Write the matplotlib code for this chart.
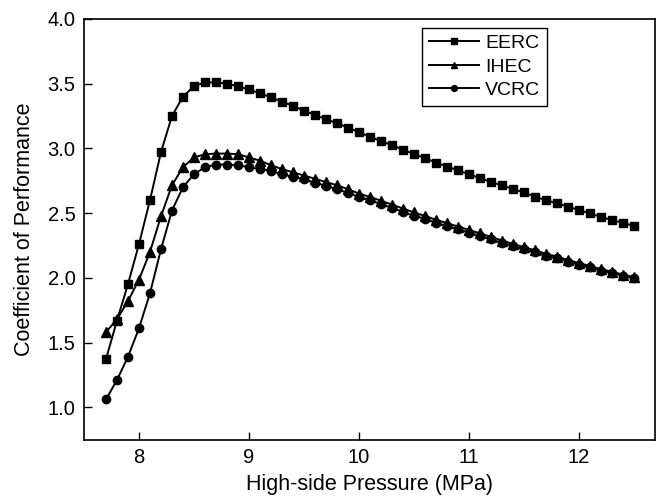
import matplotlib
matplotlib.use("Agg")
import matplotlib.pyplot as plt

plt.rcParams['font.family'] = ['Liberation Sans', 'DejaVu Sans']

pressure = [7.7, 7.8, 7.9, 8.0, 8.1, 8.2, 8.3, 8.4, 8.5, 8.6, 8.7, 8.8, 8.9,
            9.0, 9.1, 9.2, 9.3, 9.4, 9.5, 9.6, 9.7, 9.8, 9.9,
            10.0, 10.1, 10.2, 10.3, 10.4, 10.5, 10.6, 10.7, 10.8, 10.9,
            11.0, 11.1, 11.2, 11.3, 11.4, 11.5, 11.6, 11.7, 11.8, 11.9,
            12.0, 12.1, 12.2, 12.3, 12.4, 12.5]

eerc = [1.37, 1.67, 1.95, 2.26, 2.60, 2.97, 3.25, 3.40, 3.48, 3.51, 3.51, 3.50, 3.48,
        3.455, 3.425, 3.395, 3.36, 3.33, 3.29, 3.26, 3.225, 3.195, 3.16,
        3.125, 3.09, 3.056, 3.025, 2.99, 2.956, 2.925, 2.89, 2.86, 2.83,
        2.80, 2.77, 2.74, 2.715, 2.685, 2.66, 2.625, 2.60, 2.575, 2.55,
        2.523, 2.497, 2.47, 2.446, 2.425, 2.40]

ihec = [1.58, 1.68, 1.82, 1.985, 2.20, 2.475, 2.715, 2.855, 2.93, 2.955, 2.96, 2.96, 2.955,
        2.93, 2.905, 2.87, 2.84, 2.815, 2.79, 2.765, 2.74, 2.715, 2.685,
        2.65, 2.625, 2.595, 2.565, 2.535, 2.505, 2.478, 2.448, 2.422, 2.396,
        2.37, 2.343, 2.316, 2.288, 2.262, 2.236, 2.213, 2.185, 2.164, 2.138,
        2.113, 2.092, 2.067, 2.046, 2.025, 2.005]

vcrc = [1.06, 1.21, 1.39, 1.61, 1.88, 2.22, 2.52, 2.70, 2.80, 2.855, 2.875, 2.875, 2.87,
        2.855, 2.84, 2.825, 2.80, 2.78, 2.76, 2.735, 2.71, 2.685, 2.655,
        2.625, 2.60, 2.57, 2.54, 2.51, 2.48, 2.455, 2.425, 2.40, 2.375,
        2.35, 2.323, 2.298, 2.27, 2.245, 2.22, 2.198, 2.17, 2.15, 2.125,
        2.10, 2.08, 2.056, 2.036, 2.015, 1.995]

series_names = ['EERC', 'IHEC', 'VCRC']
x_ticks = [8, 9, 10, 11, 12]
y_ticks = [1.0, 1.5, 2.0, 2.5, 3.0, 3.5, 4.0]

fig = plt.figure(figsize=(6.61, 4.99), dpi=100)
ax = fig.add_axes([0.127, 0.118, 0.864, 0.844])

ax.plot(pressure, eerc, color='black', lw=1.4, marker='s', ms=5.5, label=series_names[0])
ax.plot(pressure, ihec, color='black', lw=1.4, marker='^', ms=6.5, label=series_names[1])
ax.plot(pressure, vcrc, color='black', lw=1.4, marker='o', ms=6, label=series_names[2])

ax.set_xlim(7.5, 12.69)
ax.set_ylim(0.746, 4.0)
ax.set_xticks(x_ticks)
ax.set_yticks(y_ticks)
ax.set_yticklabels([f"{v:.1f}" for v in y_ticks])
ax.tick_params(direction='in', length=6, width=1, labelsize=14.5, colors='black')
ax.tick_params(axis='x', pad=6)
ax.tick_params(axis='y', pad=6)
for s in ax.spines.values():
    s.set_linewidth(1.2)

ax.set_xlabel('High-side Pressure (MPa)', fontsize=15.5, labelpad=5)
ax.set_ylabel('Coefficient of Performance', fontsize=15.5, labelpad=9)

leg = ax.legend(loc='upper left', bbox_to_anchor=(0.592, 0.979), borderaxespad=0,
                fancybox=False, edgecolor='black', fontsize=14, markerscale=0.7,
                handlelength=2.6, handletextpad=0.3, labelspacing=0.3, borderpad=0.35,
                framealpha=1)
leg.get_frame().set_linewidth(1.0)

fig.savefig('out.png', dpi=100)
